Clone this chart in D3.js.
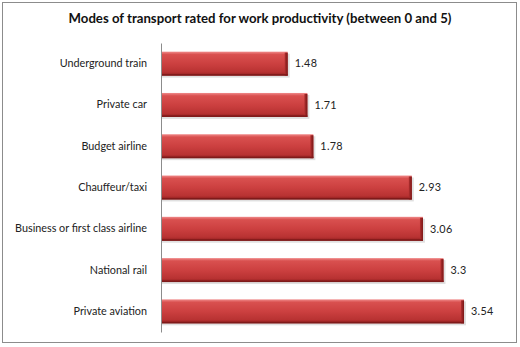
<!DOCTYPE html>
<html><head><meta charset="utf-8">
<script src="https://cdn.jsdelivr.net/npm/d3@7"></script>
<style>body{margin:0;background:#fff}svg{display:block}</style>
</head><body>
<script>
const categories = ["Underground train","Private car","Budget airline","Chauffeur/taxi","Business or first class airline","National rail","Private aviation"];
const values = [1.48, 1.71, 1.78, 2.93, 3.06, 3.3, 3.54];
const title = "Modes of transport rated for work productivity (between 0 and 5)";

const W = 520, H = 347;
const svg = d3.select("body").append("svg").attr("width", W).attr("height", H);
const defs = svg.append("defs");
const g1 = defs.append("linearGradient").attr("id","barg").attr("x1",0).attr("y1",0).attr("x2",0).attr("y2",1);
[[0,"#f08a8a"],[0.12,"#d9504f"],[0.5,"#cc4040"],[0.85,"#b83232"],[1,"#8e1e1e"]].forEach(([o,c])=>g1.append("stop").attr("offset",o).attr("stop-color",c));
const g2 = defs.append("linearGradient").attr("id","endg").attr("x1",0).attr("y1",0).attr("x2",1).attr("y2",0);
[[0,"#b03030"],[1,"#7a1616"]].forEach(([o,c])=>g2.append("stop").attr("offset",o).attr("stop-color",c));

svg.append("rect").attr("x",2.5).attr("y",2.5).attr("width",514).attr("height",340)
  .attr("fill","#fff").attr("stroke","#8c8c8c").attr("stroke-width",1);

const font = "Lato, 'Open Sans', sans-serif";
svg.append("text").attr("x",260).attr("y",23).attr("text-anchor","middle")
  .attr("font-family",font).attr("font-weight","bold").attr("font-size",13.2).attr("fill","#111").text(title);

const x0 = 161;
const x = d3.scaleLinear().domain([0,4]).range([x0, x0 + 4*85.6]);
const y = d3.scaleBand().domain(categories).range([43, 332]).paddingInner(0.42).paddingOuter(0.21);

const bars = svg.append("g").selectAll("g").data(categories).join("g");
// shadow
bars.append("rect").attr("x", x0).attr("y", c => y(c)+2)
  .attr("width", (c,i)=> x(values[i]) - x0 + 2).attr("height", y.bandwidth())
  .attr("fill","#000").attr("opacity",0.12);
bars.append("rect").attr("x", x0).attr("y", c => y(c))
  .attr("width", (c,i)=> x(values[i]) - x0).attr("height", y.bandwidth())
  .attr("fill","url(#barg)");
// right bevel
bars.append("rect").attr("x", (c,i)=> x(values[i]) - 3).attr("y", c => y(c)+1)
  .attr("width", 3).attr("height", y.bandwidth()-1).attr("fill","url(#endg)");
// bottom dark edge
bars.append("rect").attr("x", x0).attr("y", c => y(c)+y.bandwidth()-1.5)
  .attr("width", (c,i)=> x(values[i]) - x0).attr("height", 1.5).attr("fill","#7e1a1a");

// value labels
bars.append("text").attr("x",(c,i)=> x(values[i]) + 7).attr("y", c => y(c)+y.bandwidth()/2)
  .attr("dy","0.35em").attr("font-family",font).attr("font-size",10.8).attr("letter-spacing",0.3).attr("fill","#222")
  .text((c,i)=> values[i]);

// axis
const axis = d3.axisLeft(y).tickSize(0).tickPadding(14);
const ag = svg.append("g").attr("transform",`translate(${x0},0)`).call(axis);
ag.select(".domain").attr("stroke","#8c8c8c");
ag.selectAll("text").attr("font-family",font).attr("font-size",10.8).attr("fill","#222");
</script>
</body></html>
